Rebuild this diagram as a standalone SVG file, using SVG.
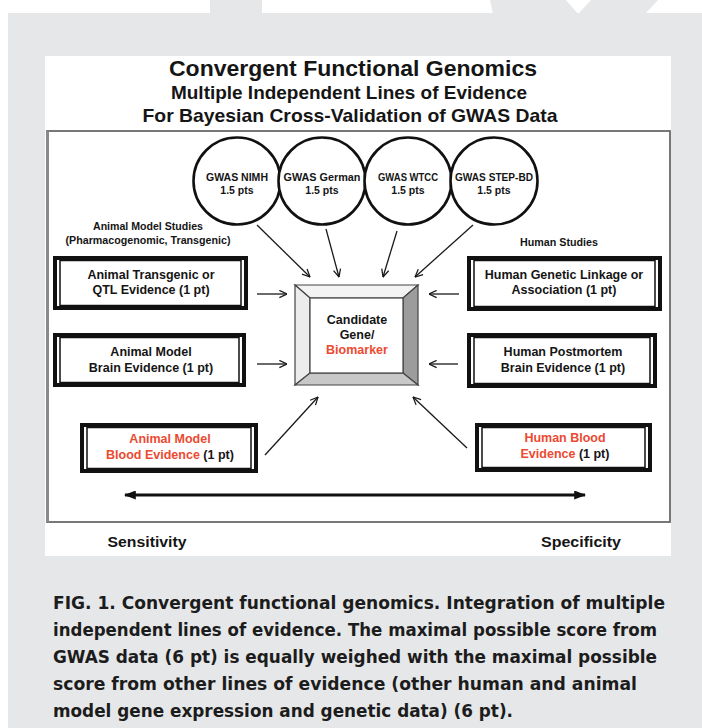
<svg xmlns="http://www.w3.org/2000/svg" width="702" height="728" viewBox="0 0 702 728">
<defs>
<style>
.t{font-family:"Liberation Sans",Arial,sans-serif;font-weight:bold;fill:#151515;text-anchor:middle}
.red{fill:#ec4a31}
.frame{fill:#fff;stroke:#111;stroke-width:4}
.inner{fill:none;stroke:#111;stroke-width:1.5}
.circ{fill:#fff;stroke:#111;stroke-width:2.6}
.con{stroke:#1a1a1a;stroke-width:1.3;fill:none;marker-end:url(#ah)}
.cap{font-family:"DejaVu Sans Condensed","Liberation Sans Narrow","DejaVu Sans",sans-serif;font-stretch:condensed;font-weight:bold;font-size:18px;fill:#1c1c1c}
</style>
<marker id="ah" viewBox="0 0 10 10" refX="9.5" refY="5" markerWidth="9" markerHeight="9" markerUnits="userSpaceOnUse" orient="auto">
<path d="M1,1 L9.5,5 L1,9" fill="none" stroke="#1a1a1a" stroke-width="1.4"/>
</marker>
<marker id="fh" viewBox="0 0 10 10" refX="9" refY="5" markerWidth="12" markerHeight="9" markerUnits="userSpaceOnUse" orient="auto-start-reverse" preserveAspectRatio="none">
<path d="M0,0 L10,5 L0,10 z" fill="#111"/>
</marker>
</defs>

<!-- background -->
<rect x="0" y="0" width="702" height="728" fill="#ffffff"/>
<rect x="8" y="13" width="694" height="715" fill="#e6e7e9"/>
<rect x="210" y="0" width="52" height="14" fill="#e6e7e9"/>
<polygon points="490,0 566,0 578,14 591,0 658,0 645,14 493,14" fill="#e6e7e9"/>

<!-- figure image area -->
<rect x="45" y="56" width="626" height="500" fill="#ffffff"/>
<rect x="47" y="131" width="623" height="391" fill="none" stroke="#6a6a6a" stroke-width="1.8"/>
<line x1="47.5" y1="131" x2="47.5" y2="522" stroke="#8a8a8a" stroke-width="3"/>

<g id="title">
<text class="t" x="353" y="76" font-size="22.5" textLength="368" lengthAdjust="spacingAndGlyphs">Convergent Functional Genomics</text>
<text class="t" x="349" y="99" font-size="18.5" textLength="356" lengthAdjust="spacingAndGlyphs">Multiple Independent Lines of Evidence</text>
<text class="t" x="350" y="122" font-size="18.5" textLength="415" lengthAdjust="spacingAndGlyphs">For Bayesian Cross-Validation of GWAS Data</text>
</g>

<g id="connectors">
<line class="con" x1="257" y1="225" x2="310" y2="277"/>
<line class="con" x1="326" y1="229" x2="339" y2="277"/>
<line class="con" x1="397" y1="231" x2="383" y2="277"/>
<line class="con" x1="473" y1="225" x2="415" y2="277"/>
<line class="con" x1="257" y1="294" x2="287" y2="294"/>
<line class="con" x1="257" y1="364" x2="287" y2="364"/>
<line class="con" x1="459" y1="294" x2="429" y2="294"/>
<line class="con" x1="458" y1="364" x2="429" y2="364"/>
<line class="con" x1="265" y1="455" x2="318" y2="397"/>
<line class="con" x1="467" y1="448" x2="413" y2="397"/>
<line x1="125" y1="495" x2="585" y2="495" stroke="#111" stroke-width="3" marker-start="url(#fh)" marker-end="url(#fh)"/>
</g>

<g id="gwas-nimh">
<circle class="circ" cx="237" cy="181" r="43.5"/>
<text class="t" x="237" y="181" font-size="10" textLength="62" lengthAdjust="spacingAndGlyphs">GWAS NIMH</text>
<text class="t" x="237" y="194" font-size="10.5">1.5 pts</text>
</g>
<g id="gwas-german">
<circle class="circ" cx="322" cy="181" r="43.5"/>
<text class="t" x="322" y="181" font-size="10" textLength="77" lengthAdjust="spacingAndGlyphs">GWAS German</text>
<text class="t" x="322" y="194" font-size="10.5">1.5 pts</text>
</g>
<g id="gwas-wtcc">
<circle class="circ" cx="408" cy="181" r="43.5"/>
<text class="t" x="408" y="181" font-size="10" textLength="60" lengthAdjust="spacingAndGlyphs">GWAS WTCC</text>
<text class="t" x="408" y="194" font-size="10.5">1.5 pts</text>
</g>
<g id="gwas-stepbd">
<circle class="circ" cx="494" cy="181" r="43.5"/>
<text class="t" x="494" y="181" font-size="10" textLength="78" lengthAdjust="spacingAndGlyphs">GWAS STEP-BD</text>
<text class="t" x="494" y="194" font-size="10.5">1.5 pts</text>
</g>

<g id="animal-label">
<text class="t" x="148" y="230" font-size="10.5" textLength="110" lengthAdjust="spacingAndGlyphs">Animal Model Studies</text>
<text class="t" x="148" y="244" font-size="10.5" textLength="165" lengthAdjust="spacingAndGlyphs">(Pharmacogenomic, Transgenic)</text>
</g>
<g id="human-label">
<text class="t" x="559" y="246" font-size="10.5" textLength="78" lengthAdjust="spacingAndGlyphs">Human Studies</text>
</g>

<g id="animal-transgenic">
<rect class="frame" x="55" y="258" width="191" height="50"/>
<rect class="inner" x="60" y="260.5" width="181" height="45"/>
<text class="t" x="151" y="279" font-size="12.5">Animal Transgenic or</text>
<text class="t" x="151" y="294" font-size="12.5">QTL Evidence (1 pt)</text>
</g>
<g id="animal-brain">
<rect class="frame" x="55" y="335" width="189" height="50"/>
<rect class="inner" x="60" y="337.5" width="179" height="45"/>
<text class="t" x="151" y="356" font-size="12.5">Animal Model</text>
<text class="t" x="151" y="372" font-size="12.5">Brain Evidence (1 pt)</text>
</g>
<g id="animal-blood">
<rect class="frame" x="82" y="425" width="174" height="46"/>
<rect class="inner" x="87" y="427.5" width="164" height="41"/>
<text class="t red" x="170" y="443" font-size="12.5">Animal Model</text>
<text class="t" x="170" y="459" font-size="12.5"><tspan class="red">Blood Evidence</tspan> (1 pt)</text>
</g>

<g id="human-genetic">
<rect class="frame" x="469" y="258" width="191" height="51"/>
<rect class="inner" x="474" y="260.5" width="181" height="46"/>
<text class="t" x="564" y="279" font-size="12.5">Human Genetic Linkage or</text>
<text class="t" x="564" y="294" font-size="12.5">Association (1 pt)</text>
</g>
<g id="human-brain">
<rect class="frame" x="469" y="335" width="186" height="51"/>
<rect class="inner" x="474" y="337.5" width="176" height="46"/>
<text class="t" x="563" y="356" font-size="12.5">Human Postmortem</text>
<text class="t" x="563" y="372" font-size="12.5">Brain Evidence (1 pt)</text>
</g>
<g id="human-blood">
<rect class="frame" x="477" y="425" width="173" height="45"/>
<rect class="inner" x="482" y="427.5" width="163" height="40"/>
<text class="t red" x="565" y="442" font-size="12.5">Human Blood</text>
<text class="t" x="565" y="458" font-size="12.5"><tspan class="red">Evidence</tspan> (1 pt)</text>
</g>

<g id="candidate">
<polygon points="295,285 418,285 403,298 310,298" fill="#f3f3f3" stroke="#444" stroke-width="1.2"/>
<polygon points="295,285 310,298 310,373 295,385" fill="#ececec" stroke="#444" stroke-width="1.2"/>
<polygon points="418,285 418,385 403,373 403,298" fill="#9c9c9c" stroke="#444" stroke-width="1.2"/>
<polygon points="295,385 418,385 403,373 310,373" fill="#c8c8c8" stroke="#444" stroke-width="1.2"/>
<rect x="310" y="298" width="93" height="75" fill="#ffffff" stroke="#444" stroke-width="1.2"/>
<text class="t" x="357" y="324" font-size="12.5">Candidate</text>
<text class="t" x="357" y="339" font-size="12.5">Gene/</text>
<text class="t red" x="357" y="354" font-size="12.5">Biomarker</text>
</g>

<g id="axis-labels">
<text class="t" x="147" y="547" font-size="14.5" textLength="79" lengthAdjust="spacingAndGlyphs">Sensitivity</text>
<text class="t" x="581" y="547" font-size="14.5" textLength="80" lengthAdjust="spacingAndGlyphs">Specificity</text>
</g>

<g id="caption">
<text class="cap" x="53" y="609" textLength="612" lengthAdjust="spacingAndGlyphs">FIG.  1.  Convergent functional genomics. Integration of multiple</text>
<text class="cap" x="53" y="636" textLength="604" lengthAdjust="spacingAndGlyphs">independent lines of evidence. The maximal possible score from</text>
<text class="cap" x="53" y="663" textLength="604" lengthAdjust="spacingAndGlyphs">GWAS data (6 pt) is equally weighed with the maximal possible</text>
<text class="cap" x="53" y="690" textLength="584" lengthAdjust="spacingAndGlyphs">score from other lines of evidence (other human and animal</text>
<text class="cap" x="53" y="717" textLength="460" lengthAdjust="spacingAndGlyphs">model gene expression and genetic data) (6 pt).</text>
</g>
</svg>
